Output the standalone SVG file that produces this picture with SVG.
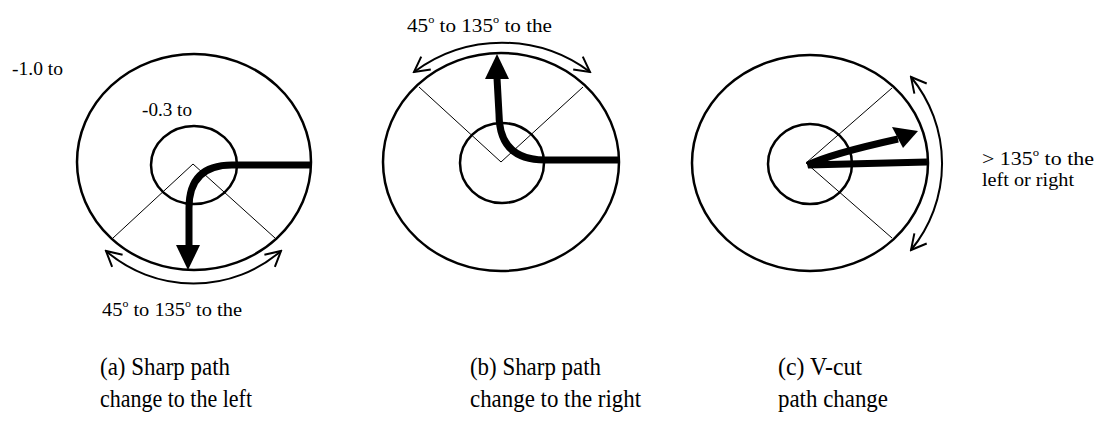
<svg xmlns="http://www.w3.org/2000/svg" width="1097" height="421" viewBox="0 0 1097 421">
<style>
.ring{fill:none;stroke:#000;stroke-width:2.5}
.wedge{fill:none;stroke:#000;stroke-width:1}
.thick{fill:none;stroke:#000;stroke-width:7;stroke-linejoin:miter}
.head{fill:#000;stroke:none}
.range{fill:none;stroke:#000;stroke-width:2;marker-start:url(#open);marker-end:url(#open)}
text{font-family:"Liberation Serif","Times New Roman",serif;fill:#000}
.lbl{font-size:19px}
.cap{font-size:25px}
.sup{font-size:11px}
</style>
<defs>
<marker id="open" viewBox="-17 -10 19 20" markerWidth="19" markerHeight="20" refX="0" refY="0" orient="auto-start-reverse" markerUnits="userSpaceOnUse">
<polyline points="-15,-8 0,0 -15,8" fill="none" stroke="#000" stroke-width="2"/>
</marker>
</defs>
<g id="diagram-a">
<ellipse class="ring" cx="194" cy="162" rx="117" ry="108"/>
<ellipse class="ring" cx="194" cy="165" rx="43" ry="39"/>
<polyline class="wedge" points="113,238 193,164 275,238"/>
<path class="thick" d="M311,165 L232,165 Q189,165 189,208 L189,247"/>
<polygon class="head" points="176,245 200,245 188,270"/>
<path class="range" d="M106,251 A134,134 0 0 0 281,251"/>
<text class="lbl" x="12" y="75" textLength="51" lengthAdjust="spacingAndGlyphs">-1.0 to</text>
<text class="lbl" x="142" y="116" textLength="50" lengthAdjust="spacingAndGlyphs">-0.3 to</text>
<text class="lbl" x="102" y="316" textLength="140" lengthAdjust="spacingAndGlyphs">45<tspan class="sup" dy="-9">o</tspan><tspan dy="9"> to 135</tspan><tspan class="sup" dy="-9">o</tspan><tspan dy="9"> to the</tspan></text>
</g>
<g id="diagram-b">
<ellipse class="ring" cx="501" cy="162" rx="118" ry="109"/>
<ellipse class="ring" cx="502" cy="163" rx="42" ry="40"/>
<polyline class="wedge" points="419,87 501,162 583,87"/>
<path class="thick" d="M619,160 L545,160 Q499,160 499,114 L497,78"/>
<polygon class="head" points="485,79 509,79 497,54"/>
<path class="range" d="M414,72 A147,147 0 0 1 590,72"/>
<text class="lbl" x="407" y="32" textLength="145" lengthAdjust="spacingAndGlyphs">45<tspan class="sup" dy="-9">o</tspan><tspan dy="9"> to 135</tspan><tspan class="sup" dy="-9">o</tspan><tspan dy="9"> to the</tspan></text>
</g>
<g id="diagram-c">
<ellipse class="ring" cx="810" cy="163" rx="118" ry="108"/>
<ellipse class="ring" cx="810" cy="164" rx="42" ry="40"/>
<polyline class="wedge" points="892,88 806,163 892,238"/>
<path class="thick" d="M927,162 L808,165 Q830,154 898,139"/>
<polygon class="head" points="892,127 903,148 918,131"/>
<path class="range" d="M911,77 A136,136 0 0 1 911,250"/>
<text class="lbl" x="982" y="165" textLength="112" lengthAdjust="spacingAndGlyphs">&gt; 135<tspan class="sup" dy="-9">o</tspan><tspan dy="9"> to the</tspan></text>
<text class="lbl" x="982" y="186" textLength="92" lengthAdjust="spacingAndGlyphs">left or right</text>
</g>
<g id="captions">
<text class="cap" x="100" y="375" textLength="130" lengthAdjust="spacingAndGlyphs">(a) Sharp path</text>
<text class="cap" x="100" y="407" textLength="152" lengthAdjust="spacingAndGlyphs">change to the left</text>
<text class="cap" x="470" y="375" textLength="131" lengthAdjust="spacingAndGlyphs">(b) Sharp path</text>
<text class="cap" x="470" y="407" textLength="171" lengthAdjust="spacingAndGlyphs">change to the right</text>
<text class="cap" x="778" y="375" textLength="84" lengthAdjust="spacingAndGlyphs">(c) V-cut</text>
<text class="cap" x="778" y="407" textLength="110" lengthAdjust="spacingAndGlyphs">path change</text>
</g>
</svg>
